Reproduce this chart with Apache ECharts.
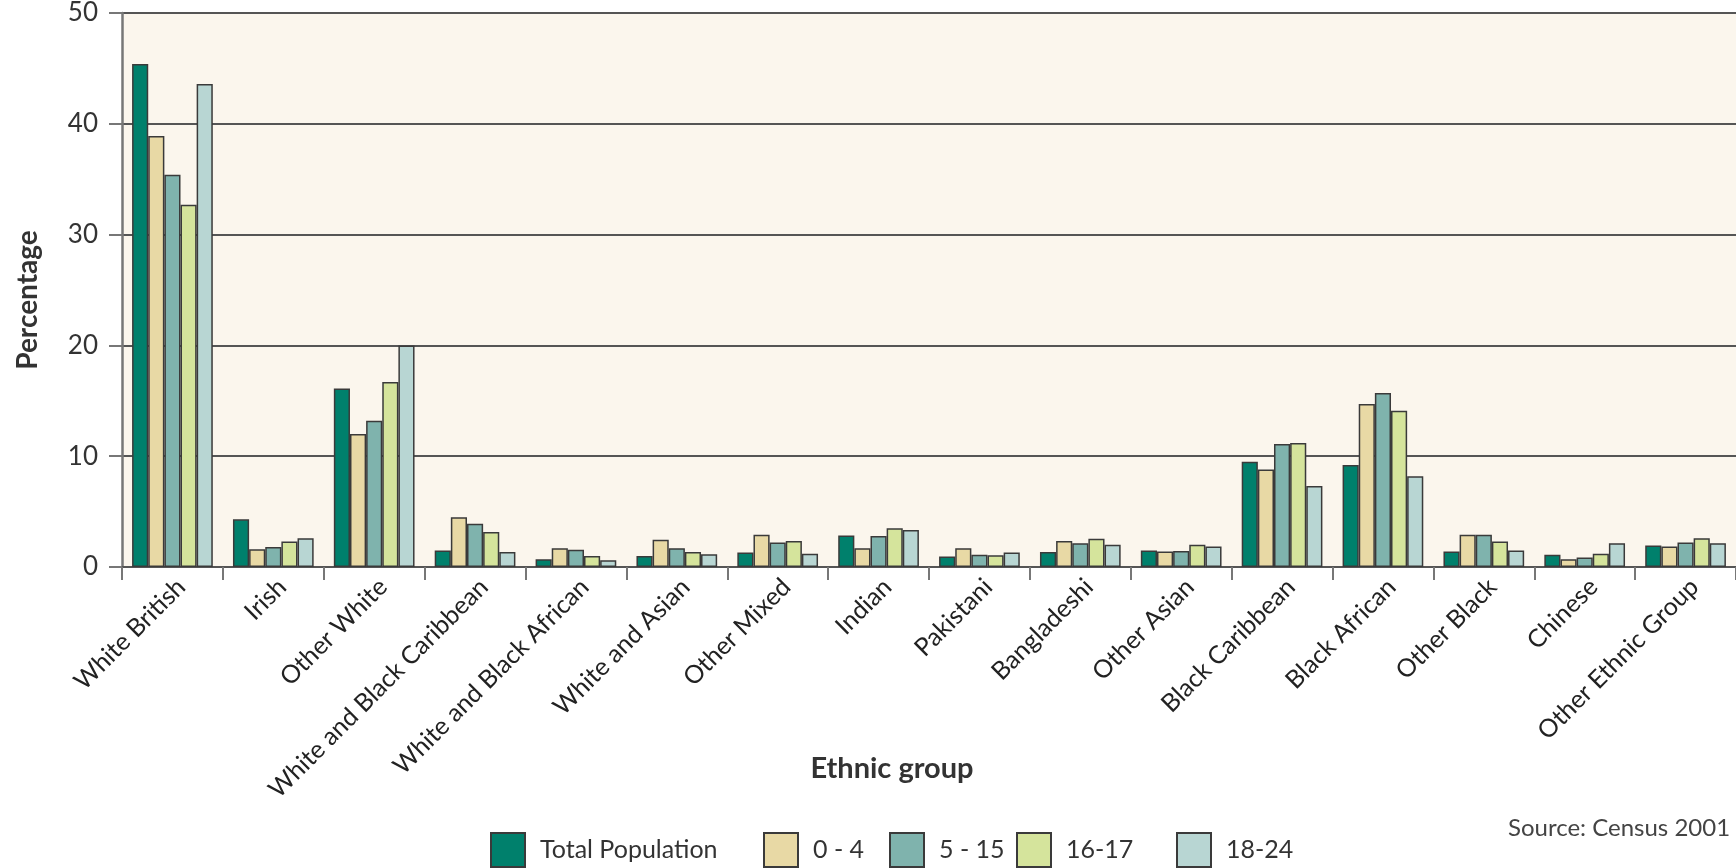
<!DOCTYPE html>
<html>
<head>
<meta charset="utf-8">
<script src="https://cdn.jsdelivr.net/npm/echarts@6/dist/echarts.min.js"></script>
<style>
html,body{margin:0;padding:0;background:#fff;overflow:hidden;}
#chart{width:1736px;height:868px;}
</style>
</head>
<body>
<div id="chart"></div>
<script>
const categories = ['White British','Irish','Other White','White and Black Caribbean','White and Black African','White and Asian','Other Mixed','Indian','Pakistani','Bangladeshi','Other Asian','Black Caribbean','Black African','Other Black','Chinese','Other Ethnic Group'];
const seriesNames = ['Total Population','0 - 4','5 - 15','16-17','18-24'];
const totalPopulation = [45.4, 4.3, 16.1, 1.5, 0.7, 1.0, 1.3, 2.85, 0.95, 1.35, 1.5, 9.5, 9.2, 1.4, 1.1, 1.95];
const age0to4 = [38.9, 1.6, 12.0, 4.5, 1.7, 2.45, 2.9, 1.7, 1.7, 2.35, 1.4, 8.8, 14.7, 2.9, 0.7, 1.85];
const age5to15 = [35.4, 1.8, 13.2, 3.9, 1.55, 1.7, 2.2, 2.8, 1.1, 2.15, 1.45, 11.1, 15.7, 2.9, 0.85, 2.2];
const age16to17 = [32.7, 2.3, 16.7, 3.15, 1.0, 1.35, 2.35, 3.5, 1.05, 2.55, 2.0, 11.2, 14.1, 2.3, 1.2, 2.6];
const age18to24 = [43.6, 2.6, 20.0, 1.35, 0.6, 1.15, 1.2, 3.35, 1.3, 2.0, 1.85, 7.3, 8.2, 1.5, 2.15, 2.15];
const yTicks = [0, 10, 20, 30, 40, 50];

const colors = ['#00806c','#e8d9a5','#7fb3ad','#d5e49c','#b8d6d3'];
const values = [totalPopulation, age0to4, age5to15, age16to17, age18to24];
const legendLefts = [490, 763, 889, 1016, 1176];
const FONT = 'Lato';

const chart = echarts.init(document.getElementById('chart'), null, {renderer:'canvas'});
chart.setOption({
  animation: false,
  backgroundColor: '#ffffff',
  textStyle: {fontFamily: FONT},
  grid: {left: 122, top: 12, width: 1622, height: 555, show: true, backgroundColor: '#fbf6ed', borderWidth: 0},
  legend: seriesNames.map((n, i) => ({
    data: [n],
    left: legendLefts[i], top: 832,
    padding: 0,
    itemWidth: 34, itemHeight: 34,
    icon: 'rect',
    textStyle: {fontFamily: FONT, fontSize: 25, color: '#333', padding: [0,0,0,10]}
  })),
  xAxis: {
    type: 'category',
    data: categories,
    axisLine: {lineStyle: {color: '#555', width: 2}},
    axisTick: {show: true, length: 13, lineStyle: {color: '#777', width: 2}},
    axisLabel: {rotate: 45, interval: 0, margin: 7, verticalAlign: 'top', fontFamily: FONT, fontSize: 25, color: '#222'},
    splitLine: {show: false}
  },
  yAxis: {
    type: 'value',
    min: yTicks[0], max: yTicks[yTicks.length-1], interval: 10,
    name: 'Percentage', nameLocation: 'middle', nameRotate: 90, nameGap: 80,
    nameTextStyle: {fontFamily: FONT, fontSize: 28, fontWeight: 'bold', color: '#333', padding: [0, 20, 0, 0]},
    axisLine: {show: true, lineStyle: {color: '#777', width: 2.5}},
    axisTick: {show: true, length: 13, lineStyle: {color: '#777', width: 2}},
    axisLabel: {margin: 24, fontFamily: FONT, fontSize: 26, color: '#333'},
    splitLine: {show: true, lineStyle: {color: '#555', width: 2}}
  },
  series: seriesNames.map((n, i) => ({
    name: n,
    type: 'bar',
    data: values[i],
    barGap: '0%',
    barCategoryGap: '20%',
    itemStyle: {color: colors[i], borderColor: '#3a3a3a', borderWidth: 1.5}
  })),
  graphic: [
    {type: 'text', x: 892, y: 769, style: {text: 'Ethnic group', font: 'bold 29px Lato', fill: '#333', textAlign: 'center', textVerticalAlign: 'middle'}},
    {type: 'text', x: 1508, y: 828, style: {text: 'Source: Census 2001', font: '24px Lato', fill: '#444', textAlign: 'left', textVerticalAlign: 'middle'}}
  ]
});
</script>
</body>
</html>
